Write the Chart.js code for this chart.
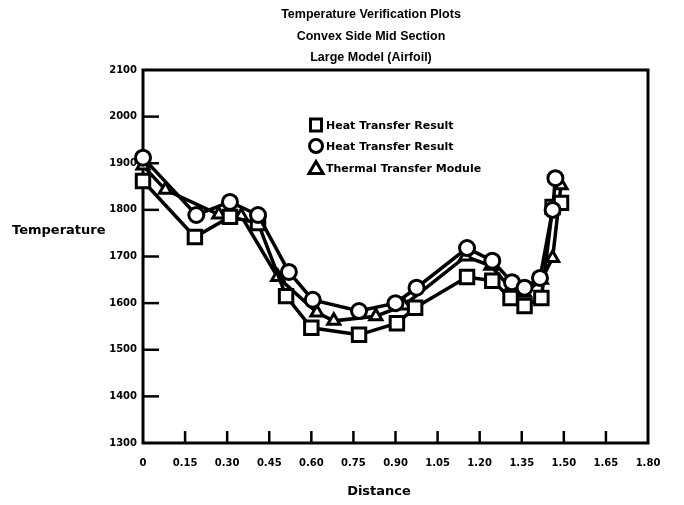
<!DOCTYPE html>
<html>
<head>
<meta charset="utf-8">
<script src="https://cdn.jsdelivr.net/npm/chart.js@4/dist/chart.umd.min.js"></script>
<style>
html,body{margin:0;padding:0;background:#fff;}
#wrap{position:relative;width:684px;height:505px;}
</style>
</head>
<body>
<div id="wrap"><canvas id="c" width="684" height="505"></canvas></div>
<script>
// ---- data ----
const titleLines = ["Temperature Verification Plots", "Convex Side Mid Section", "Large Model (Airfoil)"];
const xAxisTitle = "Distance";
const yAxisTitle = "Temperature";
const xTickLabels = ["0", "0.15", "0.30", "0.45", "0.60", "0.75", "0.90", "1.05", "1.20", "1.35", "1.50", "1.65", "1.80"];
const yTickLabels = ["1300", "1400", "1500", "1600", "1700", "1800", "1900", "2000", "2100"];

const seriesNames = ["Heat Transfer Result", "Heat Transfer Result", "Thermal Transfer Module"];

// squares
const squareX = [0, 0.185, 0.31, 0.41, 0.51, 0.60, 0.77, 0.905, 0.97, 1.155, 1.245, 1.31, 1.36, 1.42, 1.46, 1.49];
const squareY = [1862, 1742, 1785, 1772, 1615, 1547, 1532, 1557, 1590, 1656, 1648, 1611, 1594, 1611, 1806, 1815];
// circles
const circleX = [0, 0.19, 0.31, 0.41, 0.52, 0.605, 0.77, 0.90, 0.975, 1.155, 1.245, 1.315, 1.36, 1.415, 1.46, 1.47];
const circleY = [1912, 1789, 1817, 1789, 1667, 1607, 1583, 1600, 1633, 1718, 1691, 1645, 1633, 1654, 1800, 1868];
// triangles
const triX = [0, 0.08, 0.27, 0.35, 0.48, 0.62, 0.68, 0.83, 0.93, 1.15, 1.24, 1.31, 1.36, 1.42, 1.46, 1.49];
const triY = [1895, 1843, 1790, 1787, 1656, 1580, 1562, 1572, 1595, 1700, 1680, 1632, 1622, 1650, 1697, 1853];

const toPts = (xs, ys) => xs.map((x, i) => ({x: x, y: ys[i]}));

const tickFont = {family: "DejaVu Sans", weight: "bold", size: 10};

const framePlugin = {
  id: 'frame',
  beforeDatasetsDraw(chart) {
    const {ctx, chartArea: a, scales} = chart;
    ctx.save();
    ctx.strokeStyle = '#000';
    ctx.lineWidth = 3;
    ctx.strokeRect(a.left, a.top, a.right - a.left, a.bottom - a.top);
    ctx.lineWidth = 2.5;
    // inward tick marks
    scales.y.ticks.forEach(t => {
      const p = scales.y.getPixelForValue(t.value);
      if (p <= a.top + 1 || p >= a.bottom - 1) return;
      ctx.beginPath(); ctx.moveTo(a.left, p); ctx.lineTo(a.left + 16, p); ctx.stroke();
    });
    scales.x.ticks.forEach(t => {
      const p = scales.x.getPixelForValue(t.value);
      if (p <= a.left + 1 || p >= a.right - 1) return;
      ctx.beginPath(); ctx.moveTo(p, a.bottom); ctx.lineTo(p, a.bottom - 12); ctx.stroke();
    });
    ctx.restore();
  },
  afterDraw(chart) {
    const {ctx} = chart;
    ctx.save();
    ctx.fillStyle = '#000';
    ctx.textAlign = 'center';
    ctx.textBaseline = 'middle';
    ctx.font = 'bold 12.5px "Liberation Sans"';
    titleLines.forEach((t, i) => ctx.fillText(t, 371, 15 + i * 21.5));
    ctx.font = 'bold 13px "DejaVu Sans"';
    ctx.textAlign = 'left';
    ctx.fillText(yAxisTitle, 12, 231);
    ctx.textAlign = 'center';
    ctx.fillText(xAxisTitle, 379, 492);

    // legend (in dataset order)
    const lx = 316, ly = [125, 146, 168];
    ctx.lineWidth = 3;
    ctx.strokeStyle = '#000';
    chart.data.datasets.forEach((ds, i) => {
      const y = ly[i];
      ctx.fillStyle = '#fff';
      ctx.beginPath();
      if (ds.pointStyle === 'rect') {
        ctx.rect(lx - 5.5, y - 6, 11, 12);
      } else if (ds.pointStyle === 'circle') {
        ctx.arc(lx, y, 6.5, 0, Math.PI * 2);
      } else {
        ctx.moveTo(lx, y - 6.5); ctx.lineTo(lx + 7, y + 5.5); ctx.lineTo(lx - 7, y + 5.5); ctx.closePath();
      }
      ctx.fill(); ctx.stroke();
      ctx.fillStyle = '#000';
      ctx.font = 'bold 11px "DejaVu Sans"';
      ctx.textAlign = 'left';
      ctx.fillText(ds.label, lx + 10, y + 1);
    });
    ctx.restore();
  }
};

const common = {
  showLine: true,
  borderColor: '#000',
  borderWidth: 3.5,
  pointBackgroundColor: '#fff',
  pointBorderColor: '#000',
  pointBorderWidth: 3,
  clip: false,
  tension: 0
};

new Chart(document.getElementById('c'), {
  type: 'scatter',
  data: {
    datasets: [
      Object.assign({label: seriesNames[0], data: toPts(squareX, squareY), pointStyle: 'rect', pointRadius: 9.5, order: 2}, common),
      Object.assign({label: seriesNames[1], data: toPts(circleX, circleY), pointStyle: 'circle', pointRadius: 7.5, order: 1}, common),
      Object.assign({label: seriesNames[2], data: toPts(triX, triY), pointStyle: 'triangle', pointRadius: 7, order: 3}, common)
    ]
  },
  options: {
    responsive: false,
    animation: false,
    events: [],
    layout: {padding: {left: 0, top: 70, right: 36, bottom: 0}},
    plugins: {legend: {display: false}, tooltip: {enabled: false}, title: {display: false}},
    scales: {
      x: {
        type: 'linear', min: 0, max: 1.8,
        afterFit: s => { s.height = 62; },
        afterBuildTicks: s => { s.ticks = xTickLabels.map(v => ({value: parseFloat(v)})); },
        grid: {display: false, drawTicks: false},
        border: {display: false},
        ticks: {color: '#000', font: tickFont, padding: 14, maxRotation: 0, autoSkip: false,
                callback: (v, i) => xTickLabels[i]}
      },
      y: {
        type: 'linear', min: 1300, max: 2100,
        afterFit: s => { s.width = 143; },
        afterBuildTicks: s => { s.ticks = yTickLabels.map(v => ({value: parseFloat(v)})); },
        grid: {display: false, drawTicks: false},
        border: {display: false},
        ticks: {color: '#000', font: tickFont, padding: 6, autoSkip: false,
                callback: (v, i) => yTickLabels[i]}
      }
    }
  },
  plugins: [framePlugin]
});
</script>
</body>
</html>
